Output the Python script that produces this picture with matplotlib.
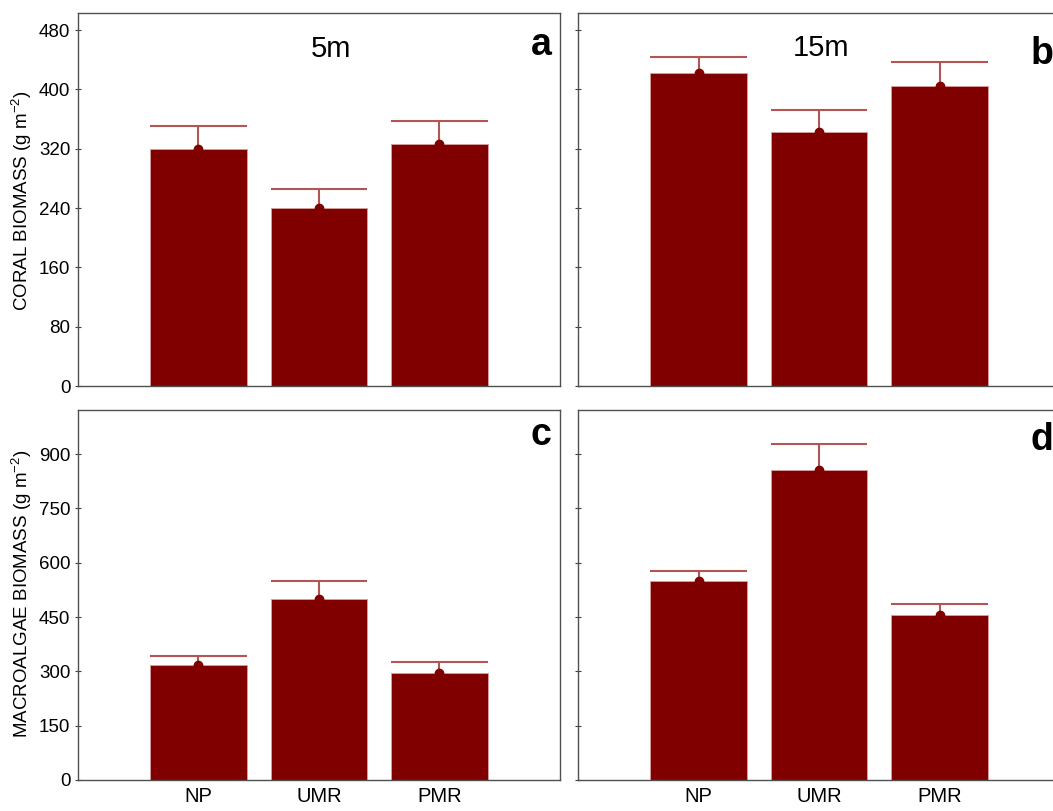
import matplotlib.pyplot as plt
import numpy as np

plt.rcParams['font.family'] = ['Liberation Sans', 'DejaVu Sans']
plt.rcParams['mathtext.default'] = 'regular'

# 分组
sites = ['NP', 'UMR', 'PMR']

# 珊瑚生物量 (均值, 标准误)
coral_5m = [320, 240, 327]
coral_5m_se = [30, 26, 30]
coral_15m = [422, 342, 404]
coral_15m_se = [22, 30, 33]

# 大型藻类生物量
macro_5m = [318, 499, 296]
macro_5m_se = [25, 51, 29]
macro_15m = [550, 855, 457]
macro_15m_se = [26, 74, 30]

bar_color = '#800000'
err_color = '#b35555'
bar_w = 0.8

fig = plt.figure(figsize=(10.53, 8.11), dpi=100)

# 面板位置 (右侧面板超出画布, 与原图一样被裁掉)
W, H = 1053, 811
def axes_px(x0, y_top, w, h):
    return fig.add_axes([x0 / W, (H - y_top - h) / H, w / W, h / H])

ax_a = axes_px(78, 13, 482, 373)
ax_b = axes_px(578, 13, 482, 373)
ax_c = axes_px(78, 410, 482, 370)
ax_d = axes_px(578, 410, 482, 370)

panels = [
    (ax_a, coral_5m, coral_5m_se, 'a', (0.0, 503), [0, 80, 160, 240, 320, 400, 480]),
    (ax_b, coral_15m, coral_15m_se, 'b', (0.0, 503), [0, 80, 160, 240, 320, 400, 480]),
    (ax_c, macro_5m, macro_5m_se, 'c', (0.0, 1022), [0, 150, 300, 450, 600, 750, 900]),
    (ax_d, macro_15m, macro_15m_se, 'd', (0.0, 1022), [0, 150, 300, 450, 600, 750, 900]),
]

x = np.arange(len(sites))
for ax, vals, se, letter, ylim, yticks in panels:
    vals = np.array(vals)
    se = np.array(se)
    ax.bar(x, vals, width=bar_w, color=bar_color, edgecolor='#d9a0a0',
           linewidth=0.6, zorder=2)
    # 只画上半部分误差线
    ax.vlines(x, vals, vals + se, color=err_color, linewidth=1.5, zorder=3)
    ax.hlines(vals + se, x - bar_w / 2, x + bar_w / 2, color=err_color,
              linewidth=1.5, zorder=3)
    ax.plot(x, vals, 'o', color=bar_color, markersize=6, zorder=4)

    ax.set_xlim(-1, 3)
    ax.set_ylim(*ylim)
    ax.set_yticks(yticks)
    ax.set_xticks(x)
    for s in ax.spines.values():
        s.set_color('#505050')
        s.set_linewidth(1.0)
    ax.tick_params(axis='y', direction='inout', length=5, width=0.8,
                   labelsize=13.5, pad=3, color='#404040')
    ax.tick_params(axis='x', direction='in', length=4, width=0.8,
                   labelsize=14.5, pad=5, color='#404040')
    ax.text(0.94, 0.89, letter, transform=ax.transAxes, fontsize=27,
            fontweight='bold', va='baseline',
            ha='left' if letter in 'bd' else 'center')

# 字母位置微调
ax_a.texts[-1].set_position((0.961, 0.887))
ax_c.texts[-1].set_position((0.961, 0.906))
ax_b.texts[-1].set_position((0.938, 0.862))
ax_d.texts[-1].set_position((0.938, 0.892))

# 只有左侧面板显示 y 刻度标签
ax_b.set_yticklabels([])
ax_d.set_yticklabels([])
# 上面板不显示 x 标签
ax_a.set_xticklabels([])
ax_b.set_xticklabels([])
ax_c.set_xticklabels(sites)
ax_d.set_xticklabels(sites)

# 水深标注
ax_a.text(0.525, 0.882, '5m', transform=ax_a.transAxes, fontsize=21,
          ha='center', va='baseline')
ax_b.text(0.505, 0.885, '15m', transform=ax_b.transAxes, fontsize=21,
          ha='center', va='baseline')

# y 轴标签
fig.text(22 / W, 1 - 201 / H, 'CORAL BIOMASS (g m$^{-2}$)', rotation=90,
         fontsize=13.5, ha='center', va='center')
fig.text(22 / W, 1 - 594 / H, 'MACROALGAE BIOMASS (g m$^{-2}$)', rotation=90,
         fontsize=13.5, ha='center', va='center')

plt.savefig('out.png', dpi=100)
